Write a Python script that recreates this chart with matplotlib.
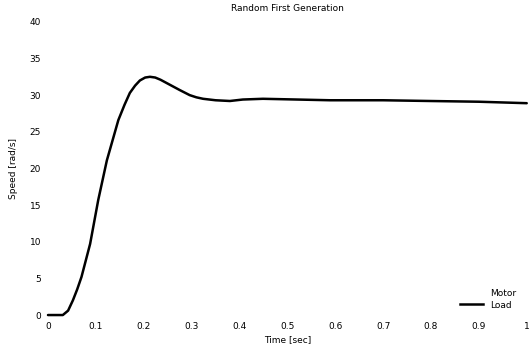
"""Speed response, random first generation (scanned figure recreation).
Writes out.png.
"""
import matplotlib
matplotlib.use('Agg')
import matplotlib.pyplot as plt
from matplotlib.lines import Line2D

# load speed
time_s = [0.0, 0.031, 0.042, 0.052, 0.061, 0.070, 0.088, 0.105, 0.123,
          0.147, 0.160, 0.171, 0.182, 0.192, 0.203, 0.213, 0.224, 0.235,
          0.255, 0.275, 0.296, 0.310, 0.324, 0.350, 0.380, 0.407, 0.449,
          0.520, 0.589, 0.700, 0.797, 0.900, 1.0]
speed = [0.0, 0.0, 0.6, 2.0, 3.5, 5.2, 9.7, 15.7, 21.1,
         26.6, 28.7, 30.3, 31.3, 32.0, 32.4, 32.5, 32.4, 32.1,
         31.4, 30.7, 30.0, 29.7, 29.5, 29.3, 29.2, 29.4, 29.5,
         29.4, 29.3, 29.3, 29.2, 29.1, 28.9]

x_ticks = [0, 0.1, 0.2, 0.3, 0.4, 0.5, 0.6, 0.7, 0.8, 0.9, 1]
x_labels = ['0', '0.1', '0.2', '0.3', '0.4', '0.5', '0.6', '0.7', '0.8', '0.9', '1']
y_ticks = [0, 5, 10, 15, 20, 25, 30, 35, 40]


def main():
    fig = plt.figure(figsize=(5.29, 3.52), dpi=100)
    ax = fig.add_axes([0.0907, 0.105, 0.905, 0.833])

    ax.plot(time_s, speed, color='black', lw=1.8, clip_on=False,
            solid_joinstyle='round', solid_capstyle='round')

    ax.set_xlim(0, 1)
    ax.set_ylim(0, 40)
    ax.set_xticks(x_ticks)
    ax.set_xticklabels(x_labels)
    ax.set_yticks(y_ticks)
    for s in ax.spines.values():
        s.set_visible(False)
    ax.tick_params(length=0, labelsize=6.5, pad=5)

    ax.set_title('Random First Generation', fontsize=6.5, pad=8)
    ax.set_xlabel('Time [sec]', fontsize=6.5, labelpad=3)
    ax.set_ylabel('Speed [rad/s]', fontsize=6.5, labelpad=8)

    handles = [Line2D([0], [0], color='none', lw=2, label='Motor'),
               Line2D([0], [0], color='black', lw=1.8, label='Load')]
    ax.legend(handles=handles, loc='lower right', frameon=False,
              fontsize=6.5, handlelength=2.6, borderaxespad=0.2,
              bbox_to_anchor=(0.99, 0.0), labelspacing=0.3)

    fig.savefig('out.png', dpi=100)


if __name__ == '__main__':
    main()
